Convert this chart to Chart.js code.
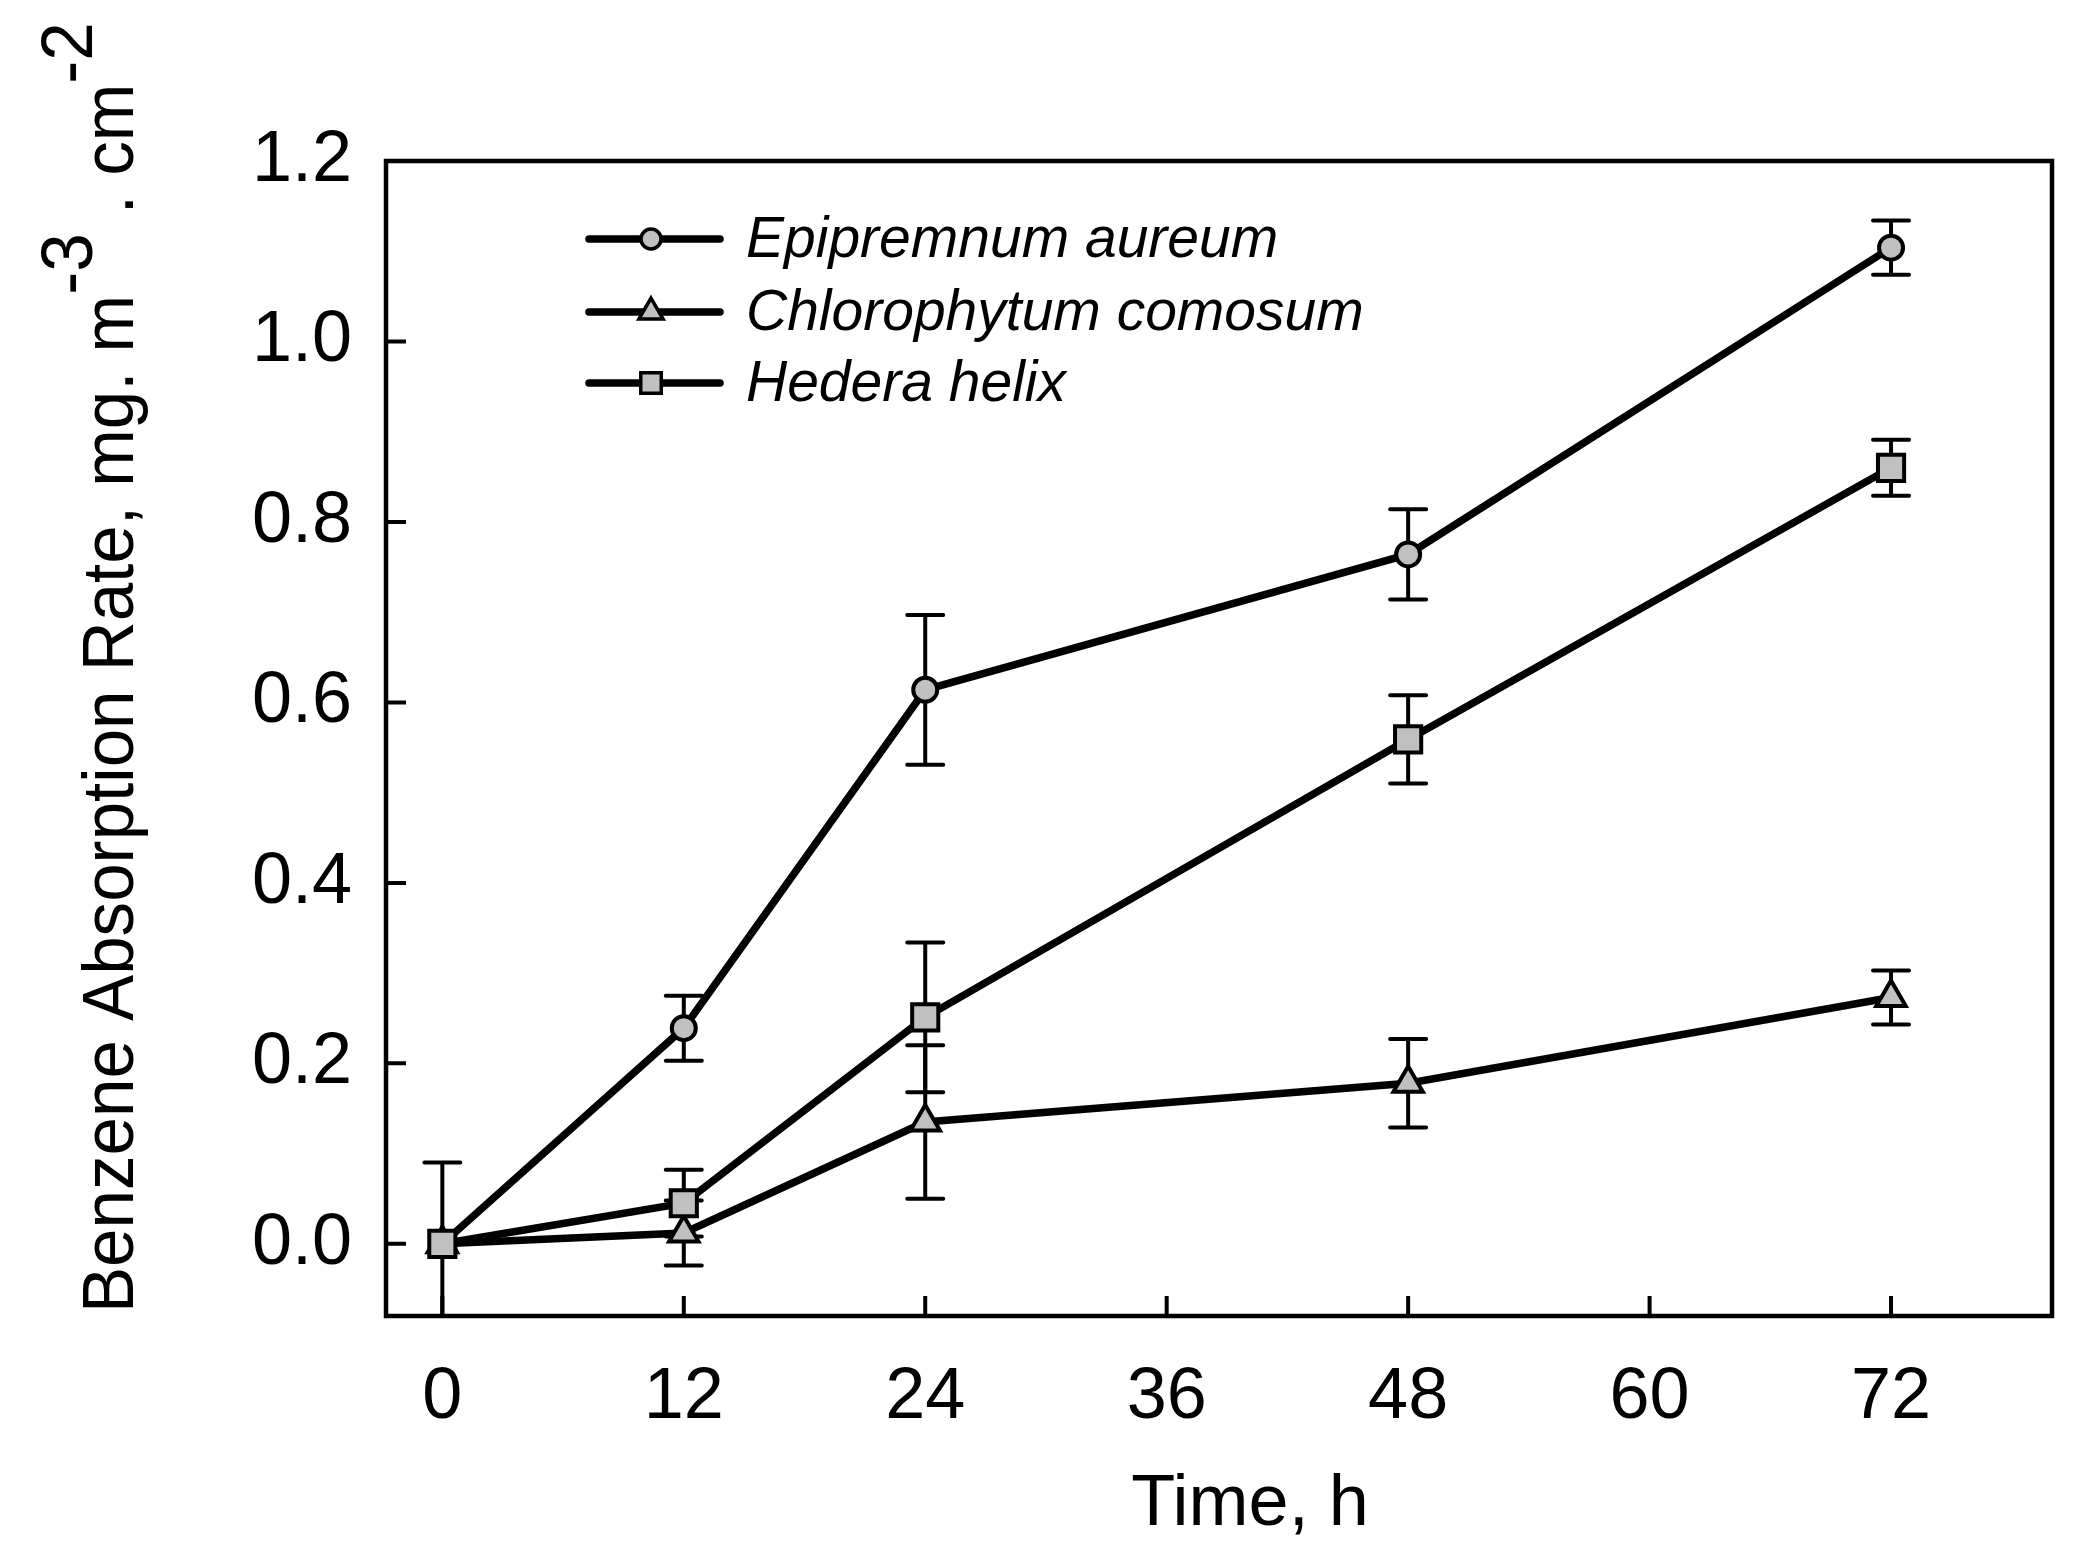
<!DOCTYPE html>
<html>
<head>
<meta charset="utf-8">
<script src="https://cdn.jsdelivr.net/npm/chart.js@4.4.1/dist/chart.umd.min.js"></script>
<style>
html, body { margin: 0; padding: 0; background: #fff; }
#wrap { width: 2095px; height: 1550px; }
</style>
</head>
<body>
<div id="wrap"><canvas id="chart" width="2095" height="1550"></canvas></div>
<script>
// DATA
const hours = [0, 12, 24, 48, 72];
const epipremnum = [0, 0.239, 0.614, 0.764, 1.104];
const epipremnumErr = [0.09, 0.036, 0.083, 0.050, 0.030];
const chlorophytum = [0, 0.012, 0.135, 0.178, 0.273];
const chlorophytumErr = [0, 0.036, 0.085, 0.049, 0.030];
const hedera = [0, 0.045, 0.251, 0.559, 0.860];
const hederaErr = [0, 0.037, 0.083, 0.049, 0.031];
const xTicks = [0, 12, 24, 36, 48, 60, 72];
const yTicks = [0, 0.2, 0.4, 0.6, 0.8, 1.0, 1.2];
const seriesNames = ["Epipremnum aureum", "Chlorophytum comosum", "Hedera helix"];

const FONT = "'Liberation Sans', Arial, sans-serif";
const GREY = "#c0c0c0";

function toPoints(vals) {
	return hours.map((h, i) => ({x: h, y: vals[i]}));
}

const series = [
	{name: seriesNames[0], vals: epipremnum, err: epipremnumErr, style: "circle", radius: 12, legendRadius: 10, order: 2},
	{name: seriesNames[1], vals: chlorophytum, err: chlorophytumErr, style: "triangle", radius: 17, legendRadius: 14, order: 1},
	{name: seriesNames[2], vals: hedera, err: hederaErr, style: "rect", radius: 18.5, legendRadius: 14.5, order: 0},
];

// error bars, clipped to the plot box
const errorBars = {
	id: "errorBars",
	beforeDatasetsDraw(chart) {
		const {ctx, chartArea, scales} = chart;
		ctx.save();
		ctx.beginPath();
		ctx.rect(chartArea.left, chartArea.top, chartArea.right - chartArea.left, chartArea.bottom - chartArea.top);
		ctx.clip();
		ctx.strokeStyle = "#000";
		ctx.lineWidth = 4;
		ctx.lineCap = "round";
		series.forEach(s => {
			hours.forEach((h, i) => {
				const e = s.err[i];
				if (!e) return;
				const x = scales.x.getPixelForValue(h);
				const yHi = scales.y.getPixelForValue(s.vals[i] + e);
				const yLo = scales.y.getPixelForValue(s.vals[i] - e);
				ctx.beginPath();
				ctx.moveTo(x, yHi); ctx.lineTo(x, yLo);
				ctx.moveTo(x - 18, yHi); ctx.lineTo(x + 18, yHi);
				ctx.moveTo(x - 18, yLo); ctx.lineTo(x + 18, yLo);
				ctx.stroke();
			});
		});
		ctx.restore();
	}
};

// box around the plot and inward ticks
const frame = {
	id: "frame",
	afterDatasetsDraw(chart) {
		const {ctx, chartArea, scales} = chart;
		ctx.save();
		ctx.strokeStyle = "#000";
		ctx.lineWidth = 4;
		ctx.beginPath();
		scales.x.ticks.forEach(t => {
			const x = scales.x.getPixelForValue(t.value);
			ctx.moveTo(x, chartArea.bottom); ctx.lineTo(x, chartArea.bottom - 20);
		});
		scales.y.ticks.forEach(t => {
			const y = scales.y.getPixelForValue(t.value);
			ctx.moveTo(chartArea.left, y); ctx.lineTo(chartArea.left + 20, y);
		});
		ctx.stroke();
		ctx.lineWidth = 4.5;
		ctx.strokeRect(chartArea.left, chartArea.top, chartArea.right - chartArea.left, chartArea.bottom - chartArea.top);
		ctx.restore();
	}
};

// axis titles; the y one has raised exponents
const axisTitles = {
	id: "axisTitles",
	afterDraw(chart) {
		const ctx = chart.ctx;
		ctx.save();
		ctx.fillStyle = "#000";
		ctx.font = "72px " + FONT;
		ctx.textAlign = "center";
		ctx.textBaseline = "alphabetic";
		ctx.fillText("Time, h", 1250, 1525);

		const parts = [
			{text: "Benzene Absorption Rate, mg. m"},
			{text: "-3", sup: true},
			{text: " . cm"},
			{text: "-2", sup: true}
		];
		ctx.translate(133, 1313);
		ctx.rotate(-Math.PI / 2);
		ctx.scale(0.96, 1);
		ctx.textAlign = "left";
		let pos = 0;
		parts.forEach(p => {
			ctx.fillText(p.text, pos, p.sup ? -41 : 0);
			pos += ctx.measureText(p.text).width;
		});
		ctx.restore();
	}
};

// legend: line through marker, italic names
const legendBox = {
	id: "legendBox",
	afterDraw(chart) {
		const ctx = chart.ctx;
		const rows = [239, 312, 383];
		ctx.save();
		series.forEach((s, i) => {
			const y = rows[i];
			ctx.strokeStyle = "#000";
			ctx.lineWidth = 7.5;
			ctx.lineCap = "round";
			ctx.beginPath();
			ctx.moveTo(589, y); ctx.lineTo(720, y);
			ctx.stroke();
			ctx.fillStyle = GREY;
			ctx.lineWidth = 3.5;
			Chart.helpers.drawPoint(ctx, {pointStyle: s.style, radius: s.legendRadius, rotation: 0, borderWidth: 3.5}, 651, y);
			ctx.fillStyle = "#000";
			ctx.font = "italic 57px " + FONT;
			ctx.textBaseline = "middle";
			ctx.fillText(s.name, 746, y + 2);
		});
		ctx.restore();
	}
};

const ctx = document.getElementById("chart");
new Chart(ctx, {
	type: "line",
	data: {
		datasets: series.map(s => ({
			label: s.name,
			data: toPoints(s.vals),
			order: s.order,
			borderColor: "#000",
			borderWidth: 7.5,
			tension: 0,
			fill: false,
			pointStyle: s.style,
			pointRadius: s.radius,
			pointHoverRadius: s.radius,
			pointBorderWidth: 4,
			pointBackgroundColor: GREY,
			pointBorderColor: "#000",
			clip: false
		}))
	},
	options: {
		responsive: false,
		animation: false,
		devicePixelRatio: 1,
		layout: {padding: {top: 161, right: 43, left: 0, bottom: 0}},
		plugins: {
			legend: {display: false},
			tooltip: {enabled: false}
		},
		scales: {
			x: {
				type: "linear",
				min: -2.8,
				max: 80,
				afterBuildTicks: s => { s.ticks = xTicks.map(v => ({value: v})); },
				afterFit: s => { s.height = 234; },
				grid: {display: false, drawTicks: false},
				border: {display: false},
				ticks: {font: {family: FONT, size: 72}, color: "#000", padding: 39, maxRotation: 0, autoSkip: false}
			},
			y: {
				type: "linear",
				min: -0.08,
				max: 1.2,
				afterBuildTicks: s => { s.ticks = yTicks.map(v => ({value: v})); },
				afterFit: s => { s.width = 386; },
				grid: {display: false, drawTicks: false},
				border: {display: false},
				ticks: {font: {family: FONT, size: 72}, color: "#000", padding: 34, callback: v => v.toFixed(1)}
			}
		}
	},
	plugins: [errorBars, frame, axisTitles, legendBox]
});
</script>
</body>
</html>
